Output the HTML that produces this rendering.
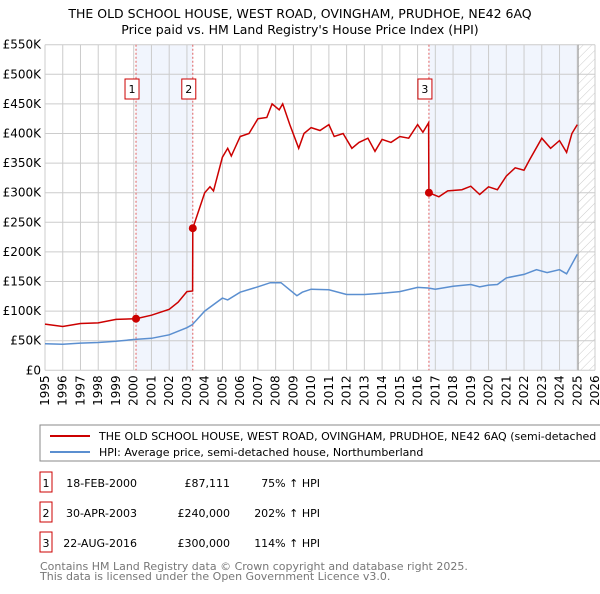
<!DOCTYPE html>
<html><head><meta charset="utf-8"><style>
body{margin:0;background:#fff;width:600px;height:590px;overflow:hidden;font-family:"DejaVu Sans","Liberation Sans",sans-serif}
svg text{font-family:"DejaVu Sans","Liberation Sans",sans-serif}
</style></head><body>
<svg id="c" width="600" height="590">
<defs><pattern id="hatch" width="6" height="6" patternUnits="userSpaceOnUse" patternTransform="rotate(45)"><line x1="0" y1="0" x2="0" y2="6" stroke="#ccc" stroke-width="1"/></pattern></defs>
<text x="300" y="18" text-anchor="middle" font-size="12.5">THE OLD SCHOOL HOUSE, WEST ROAD, OVINGHAM, PRUDHOE, NE42 6AQ</text>
<text x="300" y="34" text-anchor="middle" font-size="12.5">Price paid vs. HM Land Registry's House Price Index (HPI)</text>
<g id="grid"></g><g id="marks"></g>
<rect x="40" y="425" width="570" height="36" fill="#fff" stroke="#888"/>
<line x1="50" y1="436" x2="90" y2="436" stroke="#cc0000" stroke-width="2"/>
<text x="99" y="440" font-size="11">THE OLD SCHOOL HOUSE, WEST ROAD, OVINGHAM, PRUDHOE, NE42 6AQ (semi-detached house)</text>
<line x1="50" y1="452" x2="90" y2="452" stroke="#5b8fd0" stroke-width="2"/>
<text x="99" y="456" font-size="11">HPI: Average price, semi-detached house, Northumberland</text>
<g id="table" font-size="11"></g>
<text x="40" y="570" font-size="11" fill="#777">Contains HM Land Registry data © Crown copyright and database right 2025.</text>
<text x="40" y="580" font-size="11" fill="#777">This data is licensed under the Open Government Licence v3.0.</text>
</svg>
<script>
const yTicks=[0,50,100,150,200,250,300,350,400,450,500,550];
const yTickLabels=["£0","£50K","£100K","£150K","£200K","£250K","£300K","£350K","£400K","£450K","£500K","£550K"];
const years=[1995,1996,1997,1998,1999,2000,2001,2002,2003,2004,2005,2006,2007,2008,2009,2010,2011,2012,2013,2014,2015,2016,2017,2018,2019,2020,2021,2022,2023,2024,2025,2026];
const hpiT=[1995,1996,1997,1998,1999,2000,2001,2002,2003,2003.3,2004,2005,2005.3,2006,2007,2007.7,2008.3,2009.2,2009.5,2010,2011,2012,2013,2014,2015,2016,2016.6,2017,2018,2019,2019.5,2020,2020.5,2021,2022,2022.7,2023.3,2024,2024.4,2025];
const hpiV=[45,44,46,47,49,52,54,60,72,77,100,122,119,132,141,148,148,126,132,137,136,128,128,130,133,140,139,137,142,145,141,144,145,156,162,170,165,170,163,196];
const redT=[1995,1996,1997,1998,1999,2000.13,2001,2002,2002.5,2003,2003.32,2003.33,2004,2004.3,2004.5,2005,2005.3,2005.5,2006,2006.5,2007,2007.5,2007.8,2008.2,2008.4,2008.8,2009.3,2009.6,2010,2010.5,2011,2011.3,2011.8,2012.3,2012.7,2013.2,2013.6,2014,2014.5,2015,2015.5,2016,2016.3,2016.62,2016.64,2017.2,2017.7,2018.5,2019,2019.5,2020,2020.5,2021,2021.5,2022,2022.3,2023,2023.5,2024,2024.4,2024.7,2025];
const redV=[78,74,79,80,86,87.1,93,103,115,133,134,240,300,310,303,360,375,362,395,400,425,427,450,440,450,415,375,400,410,405,415,395,400,375,385,392,370,390,385,395,392,415,402,418,300,293,303,305,311,297,310,305,328,342,338,355,392,375,388,368,400,415];
const saleT=[2000.13,2003.33,2016.64];
const saleV=[87.111,240,300];
const saleLabels=["1","2","3"];
const saleDates=["18-FEB-2000","30-APR-2003","22-AUG-2016"];
const salePrices=["£87,111","£240,000","£300,000"];
const saleHpi=["75% ↑ HPI","202% ↑ HPI","114% ↑ HPI"];
const NS="http://www.w3.org/2000/svg";
const X0=45,X1=595,Y0=370.3,Y1=44.7;
const x=t=>X0+(t-1995)/(2026-1995)*(X1-X0);
const y=v=>Y0-v/550*(Y0-Y1);
function mk(tag,at,p){const e=document.createElementNS(NS,tag);for(const k in at)e.setAttribute(k,at[k]);p.appendChild(e);return e;}
const g=document.getElementById('grid'),m=document.getElementById('marks'),tb=document.getElementById('table');
let r=mk('rect',{x:x(saleT[0]),y:Y1,width:x(saleT[1])-x(saleT[0]),height:Y0-Y1,fill:'#f1f5fd'},g);


r=mk('rect',{x:x(saleT[2]),y:Y1,width:x(2025.05)-x(saleT[2]),height:Y0-Y1,fill:'#f1f5fd'},g);


r=mk('rect',{x:x(2025.05),y:Y1,width:X1-x(2025.05),height:Y0-Y1,fill:'url(#hatch)'},g);


yTicks.forEach((v,i)=>{mk('line',{x1:X0,x2:X1,y1:y(v),y2:y(v),stroke:'#ccc'},g);
 const t=mk('text',{x:X0-4,y:y(v)+4,'text-anchor':'end','font-size':12},g);t.textContent=yTickLabels[i];
 
 });
years.forEach(yr=>{mk('line',{x1:x(yr),x2:x(yr),y1:Y1,y2:Y0,stroke:'#ccc'},g);
 const t=mk('text',{transform:`translate(${x(yr)+4},${Y0+5}) rotate(-90)`,'text-anchor':'end','font-size':12},g);t.textContent=yr;
 
 });
mk('line',{x1:x(2025.05),x2:x(2025.05),y1:Y1,y2:Y0,stroke:'#999'},g);
saleT.forEach((t,i)=>{const l=mk('line',{x1:x(t),x2:x(t),y1:Y1,y2:Y0,stroke:'#e06060','stroke-dasharray':'2,2'},g);
 
 
 const b=mk('rect',{x:x(t)-11,y:79,width:14,height:20,fill:'#fff',stroke:'#cc0000'},m);
 
 
 const tx=mk('text',{x:x(t)-4,y:93,'text-anchor':'middle','font-size':11},m);tx.textContent=saleLabels[i];});
const path=(T,V)=>T.map((t,i)=>(i?'L':'M')+x(t).toFixed(1)+','+y(V[i]).toFixed(1)).join('');
let p=mk('path',{d:path(hpiT,hpiV),fill:'none',stroke:'#5b8fd0','stroke-width':1.5},m);


p=mk('path',{d:path(redT,redV),fill:'none',stroke:'#cc0000','stroke-width':1.5},m);


saleT.forEach((t,i)=>{const c=mk('circle',{cx:x(t),cy:y(saleV[i]),r:4,fill:'#cc0000'},m);
 
 });
saleT.forEach((t,i)=>{const yy=483+i*30;
 const b=mk('rect',{x:40,y:yy-11,width:12,height:20,fill:'none',stroke:'#cc0000'},tb);
 
 
 let e=mk('text',{x:46,y:yy+4,'text-anchor':'middle'},tb);e.textContent=saleLabels[i];
 e=mk('text',{x:137,y:yy+4,'text-anchor':'end'},tb);e.textContent=saleDates[i];
 
 
 e=mk('text',{x:230,y:yy+4,'text-anchor':'end'},tb);e.textContent=salePrices[i];
 
 
 e=mk('text',{x:320,y:yy+4,'text-anchor':'end'},tb);e.textContent=saleHpi[i];
 
 });
</script>
</body></html>
